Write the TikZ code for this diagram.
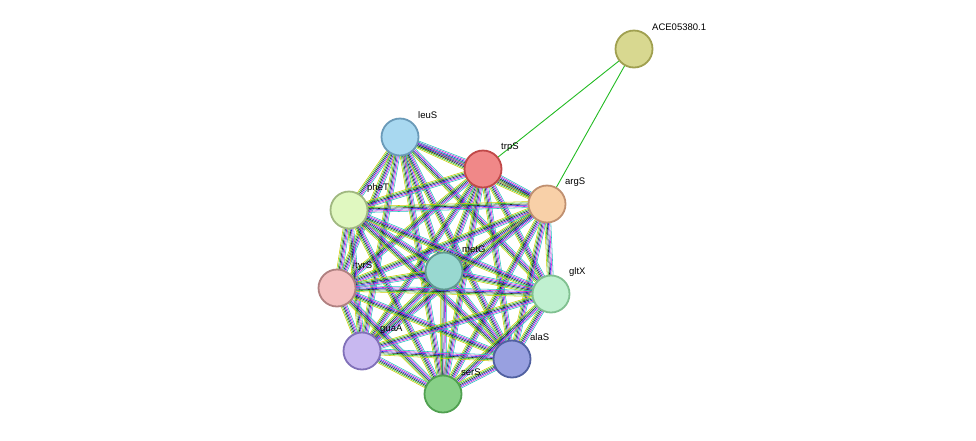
\documentclass[tikz,border=0pt]{standalone}
\usepackage{fontspec}
\setmainfont{Liberation Sans}
\usetikzlibrary{calc}
\pgfdeclarelayer{bg}
\pgfsetlayers{bg,main}
\begin{document}
\begin{tikzpicture}[x=1pt,y=-1pt,
  prot/.style={circle,minimum size=37pt,inner sep=0pt,line width=1.8pt},
  lab/.style={font=\fontsize{9.5}{10}\selectfont,anchor=west,inner sep=0pt},
  ln/.style={line width=0.55pt}]
\useasboundingbox (0,0) rectangle (976,440);
\definecolor{eY}{HTML}{C8C800}\definecolor{eG}{HTML}{22BB22}\definecolor{eB}{HTML}{2020E0}
\definecolor{eM}{HTML}{D020D0}\definecolor{eC}{HTML}{20C0C0}\definecolor{eK}{HTML}{202020}
\foreach \n/\x/\y/\f/\d in {
 ACE/634/49/D8D890/A0A050, leuS/400/137/A8D8F0/6A9AB8, trpS/483/169/F08888/C04848,
 argS/547/204/F8D0A8/C09070, pheT/349/210/E0F8C0/A0B880, metG/444/271/98D8D0/609890,
 tyrS/337/288/F4C0C0/B08080, gltX/551/294/C0F0D0/80C090, guaA/362/351/C8B8F0/8070B8,
 alaS/512/359/98A0E0/5060A0, serS/443/394/88D088/50A050}{
 \definecolor{nf}{HTML}{\f}\definecolor{nd}{HTML}{\d}
 \node[prot,fill=nf,draw=nd] (\n) at (\x,\y) {};
}
\foreach \n/\t in {ACE/ACE05380.1,leuS/leuS,trpS/trpS,argS/argS,pheT/pheT,metG/metG,tyrS/tyrS,gltX/gltX,guaA/guaA,alaS/alaS,serS/serS}
 \node[lab] (L\n) at ($(\n.center)+(18,-22)$) {\t};
\begin{pgfonlayer}{bg}
\draw[line width=0.9pt,eG] (ACE.center) -- (trpS.center);
\draw[line width=0.9pt,eG] (ACE.center) -- (argS.center);
\foreach \a [count=\i] in {leuS,trpS,argS,pheT,metG,tyrS,gltX,guaA,alaS,serS}{
 \foreach \b [count=\j] in {leuS,trpS,argS,pheT,metG,tyrS,gltX,guaA,alaS,serS}{
  \ifnum\j>\i
   \foreach \c/\o in {eY/-3pt,eG/-1.8pt,eK/-0.6pt,eB/0.6pt,eM/1.8pt,eC/3pt}
    \draw[ln,\c] ($(\a.center)!\o!90:(\b.center)$) -- ($(\b.center)!\o!-90:(\a.center)$);
  \fi
 }}
\end{pgfonlayer}
\end{tikzpicture}
\end{document}
